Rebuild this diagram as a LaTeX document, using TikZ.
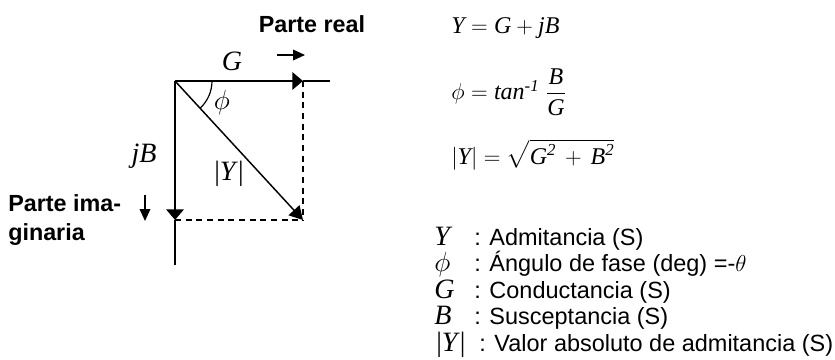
\documentclass[tikz,border=0pt]{standalone}
\usepackage{amsmath}
\usepackage{fontspec}
\setmainfont{Liberation Sans}
\newfontfamily\tms{Liberation Serif}
\usetikzlibrary{arrows.meta}
\newcommand{\tv}[1]{\text{\tms\itshape #1}}
\newcommand{\fs}[1]{\fontsize{#1}{#1}\selectfont}
\begin{document}
\begin{tikzpicture}[x=0.75pt,y=-0.75pt,
  vec/.style={line width=1.7pt,-{Triangle[length=8pt,width=13pt]}},
  axisln/.style={line width=1.7pt},
  dvec/.style={line width=1.1pt,-{Triangle[length=10pt,width=11pt]}},
  dline/.style={line width=1.1pt,dash pattern=on 4.5pt off 3.5pt},
  sarr/.style={line width=1.1pt,-{Triangle[length=9pt,width=8pt]}},
  lbl/.style={inner sep=0pt,font=\tms\fs{21}},
  eq/.style={inner sep=0pt,anchor=west,font=\tms\fs{18}},
  bold/.style={inner sep=0pt,font=\bfseries\fs{17.5}},
  leg/.style={inner sep=0pt,anchor=base west,font=\fs{17.6}},
  sym/.style={inner sep=0pt,anchor=base west,font=\tms\fs{21}}]
\useasboundingbox (0,0) rectangle (835,360);
% diagram
\coordinate (O) at (175,81);
\coordinate (Gt) at (303,81);
\coordinate (Gend) at (330,81);
\coordinate (Bt) at (175,220);
\coordinate (Bend) at (175,265);
\coordinate (Yt) at (303,220);
\draw[dline] (Gt) -- (Yt);
\draw[dline] (Bt) -- (Yt);
\draw[vec] (O) -- (Gt);
\draw[axisln] (Gt) -- (Gend);
\draw[vec] (O) -- (Bt);
\draw[axisln] (Bt) -- (Bend);
\draw[dvec] (O) -- (Yt);
\draw[line width=0.9pt] (O) ++(37,0) arc[start angle=0,end angle=-47.6,radius=27.75pt];
\node[lbl] (gl) at (232,61) {\itshape G};
\node[lbl] (phil) at (222,103) {$\phi$};
\node[lbl] (jbl) at (144,156) {\itshape jB};
\node[lbl] (yl) at (229,174) {|\textit{Y}|};
% direction labels
\node[bold] (pr) at (312,24) {Parte real};
\coordinate (ra1) at (277,55);
\coordinate (ra2) at (305,55);
\draw[sarr] (ra1) -- (ra2);
\node[bold,anchor=west,align=left] (pi) at (8,220) {Parte ima-\\[4pt]ginaria};
\coordinate (da1) at (145,195);
\coordinate (da2) at (145,221);
\draw[sarr] (da1) -- (da2);
% equations
\node[eq] (e1) at (451,28) {$\tv{Y} = \tv{G} + \tv{jB}$};
\node[eq] (e2) at (451,92) {$\phi = \tv{tan}^{\tv{-1}}\;\dfrac{\tv{B}}{\tv{G}}$};
\node[eq] (e3) at (451,155) {$|\tv{Y}| = \sqrt{\tv{G}^{\tv{2}} \mathbin{\,+\,} \tv{B}^{\tv{2}}}$};
% legend
\node[sym] (s1) at (434,245) {\itshape Y};
\node[sym] (s2) at (434,271.5) {$\phi$};
\node[sym] (s3) at (434,298) {\itshape G};
\node[sym] (s4) at (434,324.5) {\itshape B};
\node[sym] (s5) at (436,351) {|\textit{Y}|};
\node[leg] (t1) at (474,245) {: Admitancia (S)};
\node[leg] (t2) at (474,271.5) {: Ángulo de fase (deg) =-$\theta$};
\node[leg] (t3) at (474,298) {: Conductancia (S)};
\node[leg] (t4) at (474,324.5) {: Susceptancia (S)};
\node[leg] (t5) at (479,351) {: Valor absoluto de admitancia (S)};
\end{tikzpicture}
\end{document}
